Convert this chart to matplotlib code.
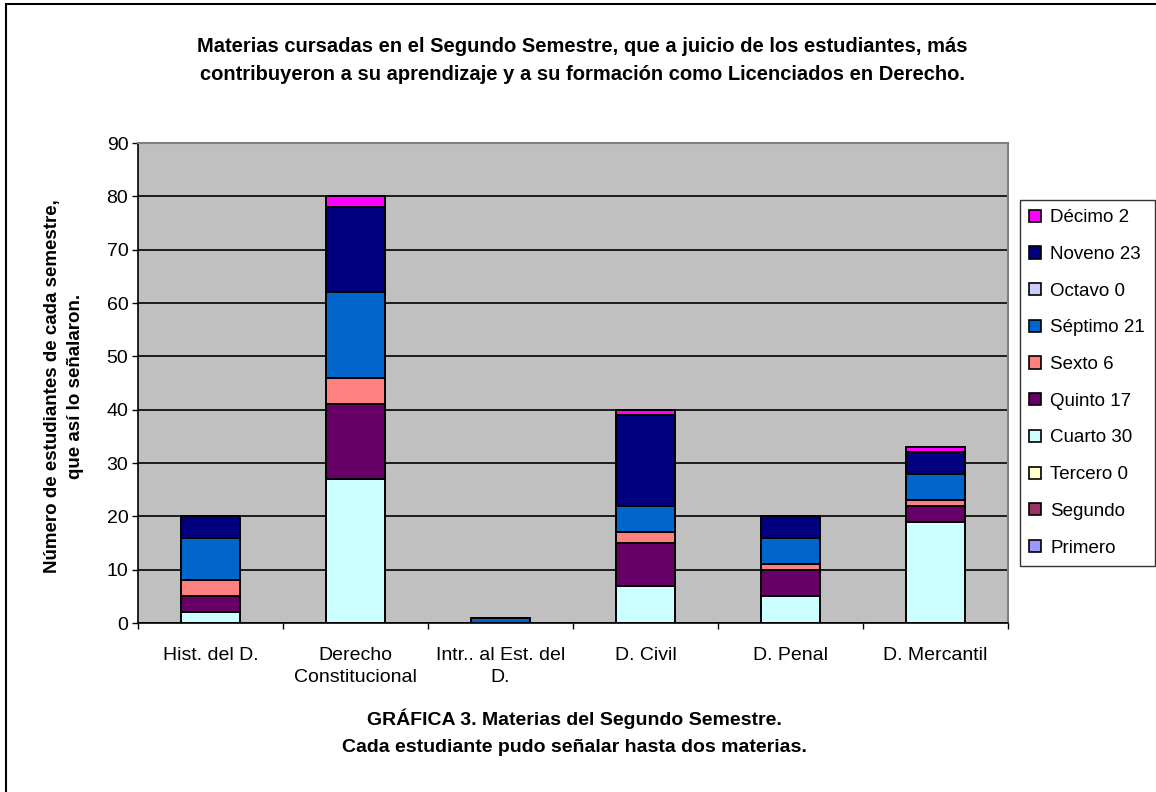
import numpy as np
import matplotlib.pyplot as plt
from matplotlib.patches import Rectangle

plt.rcParams['font.family'] = ['Liberation Sans', 'DejaVu Sans']

categories = ["Hist. del D.", "Derecho\nConstitucional", "Intr.. al Est. del\nD.",
              "D. Civil", "D. Penal", "D. Mercantil"]

# stacked from the bottom: Primero ... Décimo
primero = [0, 0, 0, 0, 0, 0]
segundo = [0, 0, 0, 0, 0, 0]
tercero = [0, 0, 0, 0, 0, 0]
cuarto = [2, 27, 0, 7, 5, 19]
quinto = [3, 14, 0, 8, 5, 3]
sexto = [3, 5, 0, 2, 1, 1]
septimo = [8, 16, 1, 5, 5, 5]
octavo = [0, 0, 0, 0, 0, 0]
noveno = [4, 16, 0, 17, 4, 4]
decimo = [0, 2, 0, 1, 0, 1]

series_labels = ["Primero", "Segundo", "Tercero 0", "Cuarto 30", "Quinto 17",
                 "Sexto 6", "Séptimo 21", "Octavo 0", "Noveno 23", "Décimo 2"]
series_colors = ["#9999FF", "#993366", "#FFFFCC", "#CCFFFF", "#660066",
                 "#FF8080", "#0066CC", "#CCCCFF", "#000080", "#FF00FF"]


def graph():
    series = [primero, segundo, tercero, cuarto, quinto,
              sexto, septimo, octavo, noveno, decimo]
    fig = plt.figure(figsize=(11.56, 7.92), dpi=100)
    ax = fig.add_axes([138 / 1156, 1 - 623 / 792, 870 / 1156, 480 / 792])
    ax.set_facecolor('#C0C0C0')
    ax.set_axisbelow(True)
    ax.yaxis.grid(True, color='black', linewidth=1.2)

    x = np.arange(len(categories))
    bottom = np.zeros(len(categories))
    handles = []
    for vals, lab, col in zip(series, series_labels, series_colors):
        vals = np.array(vals, dtype=float)
        b = ax.bar(x, vals, 0.41, bottom=bottom, color=col, edgecolor='black',
                   linewidth=1.4, label=lab)
        handles.append(b)
        bottom += vals

    ax.set_xlim(-0.5, len(categories) - 0.5)
    ax.set_ylim(0, 90)
    ax.set_yticks(range(0, 91, 10))
    ax.tick_params(axis='y', length=4.5, width=1, pad=2.5, labelsize=14)

    # ticks at category boundaries, labels at centers
    ax.set_xticks(np.arange(len(categories) + 1) - 0.5)
    ax.set_xticklabels([])
    ax.tick_params(axis='x', which='major', length=4.5, width=1)
    ax.set_xticks(x, minor=True)
    ax.set_xticklabels(categories, minor=True, fontsize=14, linespacing=1.45)
    ax.tick_params(axis='x', which='minor', length=0, pad=17)

    for s in ['left', 'bottom']:
        ax.spines[s].set_color('black')
        ax.spines[s].set_linewidth(1.2)
    for s in ['top', 'right']:
        ax.spines[s].set_color('#808080')
        ax.spines[s].set_linewidth(1.5)

    fig.text(64 / 1156, 1 - 386 / 792,
             "Número de estudiantes de cada semestre,\nque así lo señalaron.",
             rotation=90, ha='center', va='center', fontsize=13.5,
             fontweight='bold', linespacing=1.5)

    fig.text(0.504, 1 - 61 / 792,
             "Materias cursadas en el Segundo Semestre, que a juicio de los estudiantes, más\n"
             "contribuyeron a su aprendizaje y a su formación como Licenciados en Derecho.",
             ha='center', va='center', fontsize=14.5, fontweight='bold', linespacing=1.6)
    fig.text(0.497, 1 - 732 / 792,
             "GRÁFICA 3. Materias del Segundo Semestre.\n"
             "Cada estudiante pudo señalar hasta dos materias.",
             ha='center', va='center', fontsize=14, fontweight='bold', linespacing=1.75)

    leg = fig.legend(handles[::-1], series_labels[::-1], loc='upper left',
                     bbox_to_anchor=(1020 / 1156, 1 - 200 / 792),
                     fontsize=13.5, frameon=True, fancybox=False, shadow=False,
                     handlelength=0.62, handleheight=0.62, handletextpad=0.5,
                     labelspacing=1.05, borderpad=0.5, borderaxespad=0)
    leg.get_frame().set_edgecolor('black')
    leg.get_frame().set_linewidth(1)
    for h in leg.legend_handles:
        h.set_linewidth(1.2)

    # outer chart border
    fig.patches.append(Rectangle((6 / 1156, -0.1), 1.2, 1 - 4 / 792 + 0.1,
                                 transform=fig.transFigure, fill=False,
                                 edgecolor='black', linewidth=1.5))

    fig.savefig('out.png', dpi=100)


def main():
    graph()


if __name__ == "__main__":
    main()
